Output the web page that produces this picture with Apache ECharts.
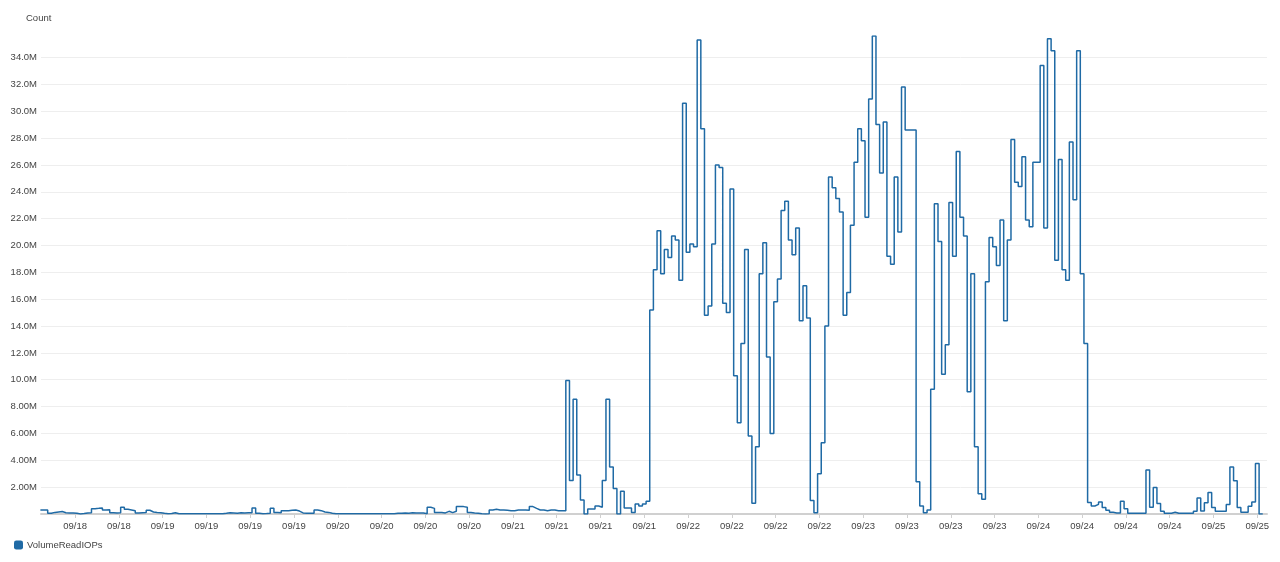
<!DOCTYPE html>
<html>
<head>
<meta charset="utf-8">
<script src="https://cdn.jsdelivr.net/npm/echarts@6/dist/echarts.min.js"></script>
<style>
html,body{margin:0;padding:0;background:#fff;}
#chart{width:1280px;height:562px;}
</style>
</head>
<body>
<div id="chart"></div>
<script>
// Time axis: hours since 09/18 00:00; one value per 30-minute period
const axisStartHour = 7 + 20 / 60;
const spanHours = 168;
const startHour = 7.25;      // first data period (starts just before the visible window)
const stepHours = 0.5;

// VolumeReadIOPs, in millions
const volumeReadIOPs = [
  0.3,
  0.3, 0.05, 0.12, 0.15, 0.18, 0.1, 0.08, 0.08, 0.06, 0.0,
  0.03, 0.08, 0.1, 0.4, 0.42, 0.45, 0.3, 0.32, 0.1, 0.08,
  0.1, 0.5, 0.35, 0.3, 0.25, 0.08, 0.1, 0.12, 0.28, 0.15,
  0.12, 0.1, 0.05, 0.02, 0.03, 0.1, 0.02, 0.01, 0.01, 0.01,
  0.01, 0.01, 0.01, 0.01, 0.01, 0.01, 0.01, 0.01, 0.01, 0.05,
  0.1, 0.08, 0.06, 0.1, 0.08, 0.1, 0.1, 0.45, 0.05, 0.02,
  0.03, 0.05, 0.42, 0.12, 0.1, 0.25, 0.25, 0.28, 0.3, 0.22,
  0.08, 0.05, 0.05, 0.05, 0.3, 0.25, 0.15, 0.12, 0.05, 0.01,
  0.01, 0.01, 0.01, 0.01, 0.01, 0.01, 0.01, 0.01, 0.01, 0.01,
  0.01, 0.01, 0.01, 0.01, 0.01, 0.02, 0.05, 0.05, 0.08, 0.06,
  0.1, 0.08, 0.08, 0.08, 0.02, 0.5, 0.42, 0.12, 0.12, 0.08,
  0.2, 0.1, 0.2, 0.55, 0.55, 0.5, 0.12, 0.08, 0.06, 0.02,
  0.0, 0.02, 0.3, 0.35, 0.3, 0.3, 0.28, 0.25, 0.25, 0.3,
  0.3, 0.3, 0.28, 0.55, 0.42, 0.3, 0.3, 0.25, 0.3, 0.3,
  0.25, 0.25, 0.25, 9.95, 2.5, 8.55, 2.9, 1.05, 0.0, 0.38,
  0.38, 0.6, 0.5, 2.5, 8.55, 3.5, 1.9, 0.0, 1.7, 0.45,
  0.45, 0.12, 0.75, 0.6, 0.75, 0.95, 15.2, 18.2, 21.1, 17.9,
  19.7, 19.1, 20.7, 20.4, 17.4, 30.6, 19.5, 20.1, 19.9, 35.3,
  28.7, 14.8, 15.5, 20.1, 26.0, 25.8, 15.7, 15.0, 24.2, 10.3,
  6.8, 12.7, 19.7, 5.8, 0.8, 5.0, 17.9, 20.2, 11.7, 6.0,
  15.8, 17.5, 22.6, 23.3, 20.4, 19.3, 21.3, 14.4, 17.0, 14.6,
  1.0, 0.1, 3.0, 5.3, 14.0, 25.1, 24.3, 23.5, 22.5, 14.8,
  16.5, 21.5, 26.2, 28.7, 27.8, 22.1, 30.9, 35.6, 29.0, 25.4,
  29.2, 19.2, 18.6, 25.1, 21.0, 31.8, 28.6, 28.6, 28.6, 2.4,
  0.6, 0.1, 0.3, 9.3, 23.1, 20.3, 10.4, 12.6, 23.2, 19.2,
  27.0, 22.1, 20.7, 9.1, 17.9, 5.0, 1.5, 1.1, 17.3, 20.6,
  19.9, 18.5, 21.9, 14.4, 20.4, 27.9, 24.7, 24.4, 26.6, 21.9,
  21.4, 26.2, 26.2, 33.4, 21.3, 35.4, 34.5, 18.9, 26.4, 18.2,
  17.4, 27.7, 23.4, 34.5, 17.9, 12.7, 0.85, 0.6, 0.72, 0.9,
  0.48, 0.28, 0.13, 0.08, 0.08, 0.95, 0.4, 0.05, 0.05, 0.05,
  0.05, 0.05, 3.27, 0.5, 1.97, 0.78, 0.2, 0.05, 0.05, 0.13,
  0.05, 0.05, 0.05, 0.05, 0.05, 0.2, 1.2, 0.23, 0.83, 1.6,
  0.48, 0.2, 0.2, 0.2, 0.7, 3.5, 2.47, 0.48, 0.13, 0.13,
  0.58, 0.9, 3.76, 0.0, 0.0
];

// X tick positions (hours since 09/18 00:00) and their labels
const tickHours = [12, 18, 24, 30, 36, 42, 48, 54, 60, 66, 72, 78, 84, 90, 96, 102,
  108, 114, 120, 126, 132, 138, 144, 150, 156, 162, 168, 174];
const tickLabels = ['09/18', '09/18', '09/19', '09/19', '09/19', '09/19', '09/20', '09/20',
  '09/20', '09/20', '09/21', '09/21', '09/21', '09/21', '09/22', '09/22', '09/22', '09/22',
  '09/23', '09/23', '09/23', '09/23', '09/24', '09/24', '09/24', '09/24', '09/25', '09/25'];

// Y tick values (millions)
const yTickValues = [2, 4, 6, 8, 10, 12, 14, 16, 18, 20, 22, 24, 26, 28, 30, 32, 34];

const seriesData = volumeReadIOPs.map((v, i) => [startHour + i * stepHours, v]);
const yMax = Math.max(...volumeReadIOPs);

const font = 'Arial, "Liberation Sans", Helvetica, sans-serif';
const fs = 9.5;
const textColor = '#444';
const chart = echarts.init(document.getElementById('chart'), null, { renderer: 'canvas' });
chart.setOption({
  animation: false,
  backgroundColor: '#ffffff',
  textStyle: { fontFamily: font },
  title: {
    text: 'Count',
    left: 21, top: 8,
    textStyle: { fontSize: fs, fontWeight: 'normal', color: textColor, fontFamily: font }
  },
  legend: {
    left: 9, top: 535,
    icon: 'roundRect',
    itemWidth: 9, itemHeight: 9,
    textStyle: { fontSize: fs, color: textColor, fontFamily: font, padding: [0, 0, 0, -1] },
    data: ['VolumeReadIOPs']
  },
  grid: { left: 41, right: 13, top: 36, bottom: 48, containLabel: false },
  xAxis: {
    type: 'value',
    min: axisStartHour,
    max: axisStartHour + spanHours,
    axisLine: { show: true, lineStyle: { color: '#d0d0d0', width: 2 } },
    axisTick: { show: true, customValues: tickHours, length: 4, lineStyle: { color: '#d0d0d0' } },
    axisLabel: {
      customValues: tickHours,
      color: textColor, fontSize: fs, margin: 7, fontFamily: font,
      formatter: (val) => {
        const k = tickHours.indexOf(Math.round(val));
        return k >= 0 ? tickLabels[k] : '';
      }
    },
    splitLine: { show: false }
  },
  yAxis: {
    type: 'value',
    min: 0,
    max: yMax,
    interval: 2,
    axisLine: { show: false },
    axisTick: { show: false, customValues: yTickValues },
    axisLabel: {
      customValues: yTickValues,
      color: textColor, fontSize: fs, margin: 4, fontFamily: font,
      formatter: (v) => v >= 10 ? v.toFixed(1) + 'M' : v.toFixed(2) + 'M'
    },
    splitLine: { show: true, lineStyle: { color: '#eeeeee', width: 1 } }
  },
  series: [{
    name: 'VolumeReadIOPs',
    type: 'line',
    step: 'end',
    data: seriesData,
    clip: true,
    showSymbol: false,
    symbol: 'none',
    itemStyle: { color: '#1f6aa5' },
    lineStyle: { color: '#1f6aa5', width: 1.5 }
  }]
});
</script>
</body>
</html>
